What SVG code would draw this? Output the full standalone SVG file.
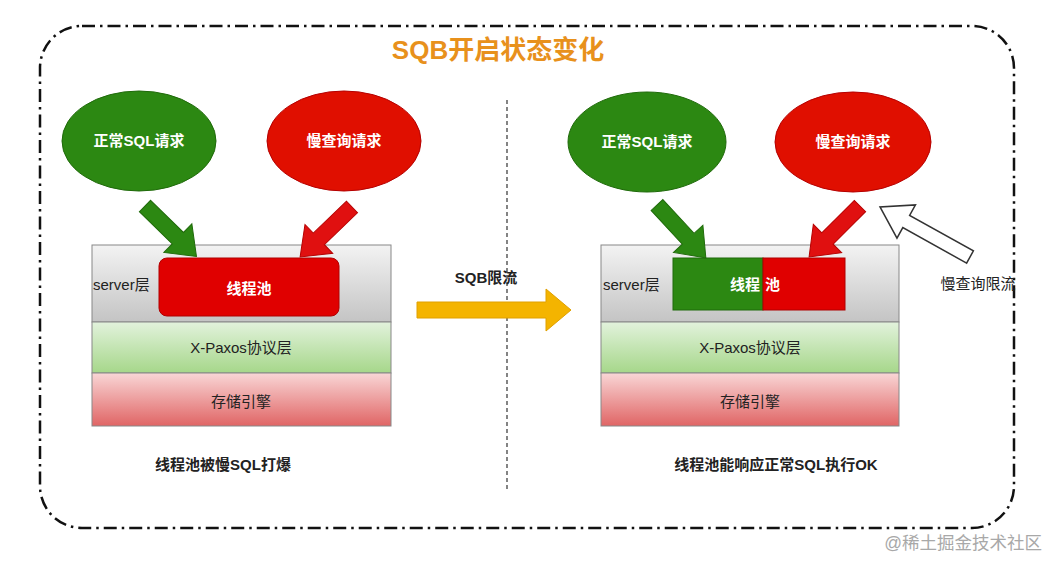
<svg xmlns="http://www.w3.org/2000/svg" xmlns:xlink="http://www.w3.org/1999/xlink" width="1059" height="570" viewBox="0 0 1059 570">
<style>
.t{font-family:"Liberation Sans","Noto Sans CJK SC",sans-serif;font-size:15px;}
.w{fill:#fff;}
.d{fill:#222;}
.b{font-weight:bold;}
.ge{fill:#2C8812;stroke:#1f6a0a;stroke-width:1;}
.re{fill:#E00F00;stroke:#b50000;stroke-width:1;}
.lay{stroke:#888;stroke-width:1;}
</style>
<defs>
<linearGradient id="gs" x1="0" y1="0" x2="0" y2="1"><stop offset="0" stop-color="#f3f3f3"/><stop offset="1" stop-color="#c4c4c4"/></linearGradient>
<linearGradient id="gp" x1="0" y1="0" x2="0" y2="1"><stop offset="0" stop-color="#e2f2dc"/><stop offset="1" stop-color="#a6d78a"/></linearGradient>
<linearGradient id="gr" x1="0" y1="0" x2="0" y2="1"><stop offset="0" stop-color="#f9d6d6"/><stop offset="1" stop-color="#e06565"/></linearGradient>
<path id="blk" d="M0,-8 L46,-8 L46,-20 L72,0 L46,20 L46,8 L0,8 Z"/>
</defs>
<rect width="1059" height="570" fill="#fff"/>
<rect x="40" y="26" width="974" height="502" rx="42" fill="none" stroke="#111" stroke-width="2.5" stroke-dasharray="13 5 2.5 5"/>
<text class="t b" x="498" y="59" text-anchor="middle" style="font-size:26px" fill="#E8911C">SQB开启状态变化</text>
<line x1="507" y1="100" x2="507" y2="490" stroke="#333" stroke-width="1.2" stroke-dasharray="4 3"/>

<g id="left-stack">
<rect class="lay" x="92" y="245" width="299" height="77" fill="url(#gs)"/>
<rect class="lay" x="92" y="322" width="299" height="51" fill="url(#gp)"/>
<rect class="lay" x="92" y="373" width="299" height="53" fill="url(#gr)"/>
<text class="t d" x="93" y="290">server层</text>
<text class="t d" x="241" y="353" text-anchor="middle">X-Paxos协议层</text>
<text class="t d" x="241" y="407" text-anchor="middle">存储引擎</text>
</g>
<g id="left-pool">
<rect x="159" y="258" width="180" height="58" rx="8" fill="#E00000" stroke="#b00000"/>
<text class="t w b" x="249" y="294" text-anchor="middle">线程池</text>
</g>
<g id="left-normal">
<ellipse class="ge" cx="139" cy="141" rx="77" ry="50"/>
<text class="t w b" x="139" y="146" text-anchor="middle">正常SQL请求</text>
</g>
<g id="left-slow">
<ellipse class="re" cx="344" cy="141" rx="77" ry="50"/>
<text class="t w b" x="344" y="146" text-anchor="middle">慢查询请求</text>
</g>

<g id="right-stack">
<rect class="lay" x="601" y="245" width="298" height="77" fill="url(#gs)"/>
<rect class="lay" x="601" y="322" width="298" height="51" fill="url(#gp)"/>
<rect class="lay" x="601" y="373" width="298" height="53" fill="url(#gr)"/>
<text class="t d" x="603" y="290">server层</text>
<text class="t d" x="750" y="353" text-anchor="middle">X-Paxos协议层</text>
<text class="t d" x="750" y="407" text-anchor="middle">存储引擎</text>
</g>
<g id="right-pool">
<rect x="673" y="258" width="90" height="52" fill="#2C8812" stroke="#1f6a0a"/>
<rect x="763" y="258" width="82" height="52" fill="#E00000" stroke="#b00000"/>
<text class="t w b" x="760" y="290" text-anchor="end">线程</text>
<text class="t w b" x="765" y="290">池</text>
</g>
<g id="right-normal">
<ellipse class="ge" cx="647" cy="142" rx="79" ry="50"/>
<text class="t w b" x="647" y="147" text-anchor="middle">正常SQL请求</text>
</g>
<g id="right-slow">
<ellipse class="re" cx="853" cy="142" rx="78" ry="50"/>
<text class="t w b" x="853" y="147" text-anchor="middle">慢查询请求</text>
</g>

<g id="connectors">
<use xlink:href="#blk" transform="translate(145,206) rotate(44.4)" fill="#2C8812" stroke="#1f6a0a"/>
<use xlink:href="#blk" transform="translate(352,207) rotate(136.1)" fill="#E01010" stroke="#b50000"/>
<use xlink:href="#blk" transform="translate(657,205) rotate(47.3)" fill="#2C8812" stroke="#1f6a0a"/>
<use xlink:href="#blk" transform="translate(860,206) rotate(135)" fill="#E01010" stroke="#b50000"/>
<polygon points="0,-7 73,-7 73,-19 103,0 73,19 73,7 0,7" transform="translate(970,257) rotate(-150.9)" fill="#fff" stroke="#333" stroke-width="1.5"/>
<polygon points="417,302 546,302 546,289 571,310 546,331 546,318 417,318" fill="#F4B400" stroke="#E0A000"/>
</g>
<text class="t d b" x="486" y="283" text-anchor="middle">SQB限流</text>
<text class="t d" x="978" y="289" text-anchor="middle">慢查询限流</text>
<text class="t d b" x="223" y="470" text-anchor="middle">线程池被慢SQL打爆</text>
<text class="t d b" x="776" y="470" text-anchor="middle">线程池能响应正常SQL执行OK</text>
<text class="t" x="1042" y="549" text-anchor="end" style="font-size:17.5px" fill="#a8a8a8">@稀土掘金技术社区</text>
</svg>
